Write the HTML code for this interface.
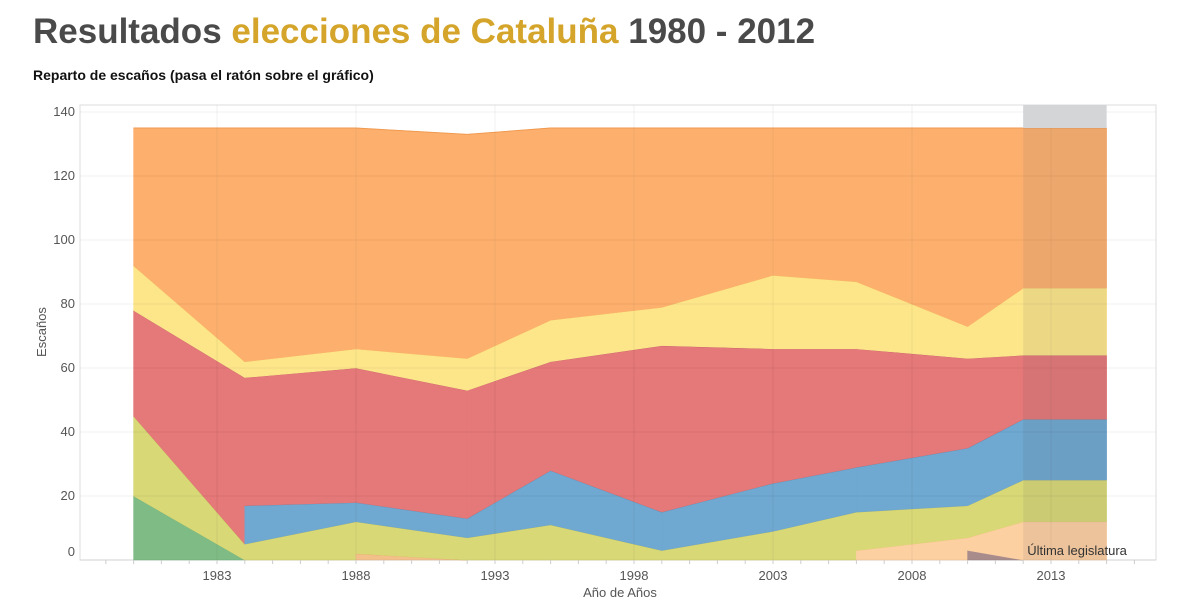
<!DOCTYPE html>
<html><head><meta charset="utf-8">
<style>
body{margin:0;background:#fff;width:1200px;height:598px;overflow:hidden;font-family:"Liberation Sans",sans-serif;}
h1{position:absolute;left:33px;top:12px;margin:0;font-size:35px;font-weight:bold;color:#4a4a4a;letter-spacing:0px}
h1 span{color:#d4a52a}
.sub{position:absolute;left:33px;top:67px;font-size:14px;font-weight:bold;color:#111}
svg{position:absolute;left:0;top:0}
</style></head><body>
<h1>Resultados <span>elecciones de Cataluña</span> 1980 - 2012</h1>
<div class="sub">Reparto de escaños (pasa el ratón sobre el gráfico)</div>
<svg id="c" width="1200" height="598"></svg>
<script>
const years=[1980,1984,1988,1992,1995,1999,2003,2006,2010,2012,2015];
const yTicks=[0,20,40,60,80,100,120,140];
const xTicks=[1983,1988,1993,1998,2003,2008,2013];
const green=[20,0,null,null,null,null,null,null,null,null,null];
const grey=[null,null,null,null,null,null,null,null,3,0,null];
const peach=[null,null,null,null,null,null,null,3,4,12,12];
const otros=[null,null,2,0,null,null,null,null,null,null,null];
const ygreen=[25,5,10,7,11,3,9,12,10,13,13];
const blue=[null,12,6,6,17,12,15,14,18,19,19];
const red=[33,40,42,40,34,52,42,37,28,20,20];
const yellow=[14,5,6,10,13,12,23,21,10,21,21];
const orange=[43,73,69,70,60,56,46,48,62,50,50];
const lastStart=2012, lastEnd=2015;

const layers=[
 {n:'green',v:green,f:'#7fbc85',s:'#6aa86f'},
 {n:'grey',v:grey,f:'#a88c8c',s:'#a88c8c'},
 {n:'peach',v:peach,f:'#fdd0a2',s:'#f5b97a'},
 {n:'otros',v:otros,f:'#f3c08a',s:'#e9a060'},
 {n:'yellow-green',v:ygreen,f:'#d8d877',s:'#b8b85a'},
 {n:'blue',v:blue,f:'#6fa8d0',s:'#5a7fa8'},
 {n:'red',v:red,f:'#e57878',s:'#b5506a'},
 {n:'yellow',v:yellow,f:'#fde68a',s:'#f0c860'},
 {n:'orange',v:orange,f:'#fdb06e',s:'#f09a50'}
];
const X0=80,X1=1156,Y0=105,YB=560;
const x=y=>217+(y-1983)*27.8;
const yv=v=>YB-v*3.2;
const NS='http://www.w3.org/2000/svg';
const svg=document.getElementById('c');
function mk(t,a,p){const e=document.createElementNS(NS,t);for(const k in a)e.setAttribute(k,a[k]);(p||svg).appendChild(e);return e;}
const frame=mk('rect',{x:X0,y:Y0,width:X1-X0,height:YB-Y0,fill:'#fff',stroke:'#ddd'});


// cumulative tops (null counts as 0)
const tops=[];
let run=years.map(()=>0);
layers.forEach(L=>{run=run.map((r,i)=>r+(L.v[i]||0));tops.push(run.slice());});
for(let i=0;i<years.length-1;i++){
  let b0=0,b1=0;
  layers.forEach((L,li)=>{
    if(L.v[i]==null||L.v[i+1]==null)return;
    const t0=tops[li][i],t1=tops[li][i+1];
    const d='M'+x(years[i])+','+yv(t0)+'L'+x(years[i+1])+','+yv(t1)+'L'+x(years[i+1])+','+yv(b1)+'L'+x(years[i])+','+yv(b0)+'Z';
    const p=mk('path',{d:d,fill:L.f,stroke:L.f,'stroke-width':0.6});
    
    
    const ln=mk('line',{x1:x(years[i]),y1:yv(t0),x2:x(years[i+1]),y2:yv(t1),stroke:L.s,'stroke-width':1});
    
    
    b0=t0;b1=t1;
  });
}
yTicks.forEach(t=>{
  const g=mk('line',{x1:X0,x2:X1,y1:yv(t),y2:yv(t),stroke:'rgba(0,0,0,0.06)'});
  
  
  const tl=mk('text',{x:75,y:yv(t)+(t==0?-4:4),'text-anchor':'end','font-size':13,fill:'#555'});
  tl.textContent=t;
  
  
});
xTicks.forEach(t=>{
  const g=mk('line',{x1:x(t),x2:x(t),y1:Y0,y2:YB,stroke:'rgba(0,0,0,0.05)'});
  
  
  const tl=mk('text',{x:x(t),y:580,'text-anchor':'middle','font-size':13,fill:'#555'});
  tl.textContent=t;
  
  
});
for(let yr=1979;yr<=2016;yr++){
  const tk=mk('line',{x1:x(yr),x2:x(yr),y1:YB,y2:YB+4,stroke:'#ccc'});
  
  
}
const band=mk('rect',{x:x(lastStart),y:Y0,width:x(lastEnd)-x(lastStart),height:YB-Y0,fill:'rgba(90,90,100,0.10)'});


const bandTop=mk('rect',{x:x(lastStart),y:Y0,width:x(lastEnd)-x(lastStart),height:yv(135)-Y0,fill:'#d4d5d7'});


const bl=mk('text',{x:x(lastStart)+4,y:555,'font-size':13,fill:'#333'});
bl.textContent='Última legislatura';


const yt=mk('text',{x:46,y:332,'text-anchor':'middle','font-size':13,fill:'#555',transform:'rotate(-90 46 332)'});
yt.textContent='Escaños';


const xt=mk('text',{x:620,y:597,'text-anchor':'middle','font-size':13,fill:'#555'});
xt.textContent='Año de Años';


</script>
</body></html>
